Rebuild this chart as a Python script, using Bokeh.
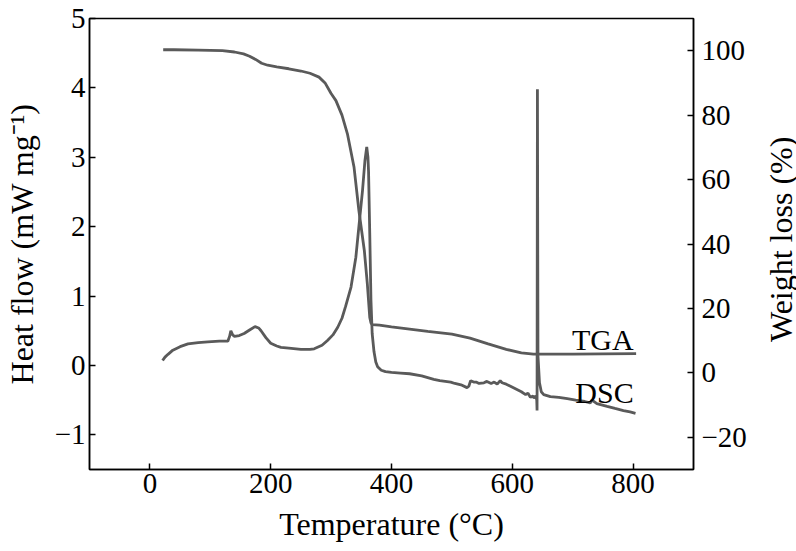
from bokeh.plotting import figure
from bokeh.models import Range1d, LinearAxis, FixedTicker, CustomJSTickFormatter, Div
from bokeh.layouts import row
from bokeh.core.properties import value
from bokeh.embed import file_html
from bokeh.resources import INLINE

# DSC (heat flow, mW/mg) vs temperature (°C)
dsc_temp = [21, 25, 30, 38, 50, 63, 80, 96, 115, 129, 132, 134, 137, 140, 148, 156, 165, 174, 180, 184,
            192, 200, 210, 217, 230, 250, 265, 272, 285, 294, 303, 311, 318, 324, 333, 341, 346, 352,
            356, 359, 361, 362, 364, 366, 368, 371, 374, 377, 383, 390, 400, 415, 430, 450, 470, 480,
            498, 505, 515, 525, 528, 531, 536, 540, 545, 553, 558, 565, 570, 575, 580, 583, 590, 597,
            606, 615, 622, 626, 630, 634, 636, 639, 640.5, 641, 641.6, 642.5, 645, 648, 652, 663, 677,
            691, 705, 720, 729, 732, 740, 757, 770, 784, 795, 804]
dsc_heat = [0.07, 0.12, 0.16, 0.22, 0.27, 0.31, 0.33, 0.34, 0.35, 0.35, 0.42, 0.50, 0.44, 0.42, 0.43, 0.46,
            0.51, 0.56, 0.54, 0.50, 0.40, 0.32, 0.28, 0.26, 0.25, 0.23, 0.23, 0.24, 0.29, 0.36, 0.44, 0.55,
            0.68, 0.85, 1.13, 1.56, 2.00, 2.52, 2.95, 3.15, 3.00, 2.80, 1.90, 0.94, 0.46, 0.20, 0.05, -0.02,
            -0.07, -0.09, -0.10, -0.11, -0.12, -0.15, -0.20, -0.22, -0.24, -0.26, -0.28, -0.32, -0.30, -0.22,
            -0.24, -0.24, -0.26, -0.25, -0.23, -0.26, -0.24, -0.27, -0.22, -0.25, -0.27, -0.30, -0.34, -0.38,
            -0.42, -0.40, -0.46, -0.44, -0.47, -0.44, -0.50, -0.65, 3.98, 0.14, -0.25, -0.38, -0.42, -0.45,
            -0.46, -0.48, -0.50, -0.52, -0.54, -0.50, -0.55, -0.59, -0.62, -0.65, -0.67, -0.69]

# TGA (weight %, right axis) vs temperature (°C)
tga_temp = [22, 40, 80, 120, 140, 155, 165, 175, 185, 195, 210, 230, 250, 265, 280, 290, 300, 308, 318,
            327, 338, 346, 355, 360, 364, 366, 368, 380, 400, 430, 460, 500, 530, 560, 590, 615, 635, 660,
            700, 750, 805]
tga_weight = [100.3, 100.3, 100.2, 100.0, 99.6, 99.0, 98.3, 97.3, 96.1, 95.5, 95.0, 94.4, 93.7, 93.0,
              91.8, 90.0, 86.7, 84.5, 80.0, 74.2, 63.8, 50.4, 38.0, 27.6, 17.2, 15.5, 15.0, 14.8, 14.3,
              13.6, 12.9, 12.0, 10.8, 9.0, 7.3, 6.2, 5.8, 5.8, 5.8, 5.9, 6.0]

x_ticks = [0, 200, 400, 600, 800]
left_ticks = [-1, 0, 1, 2, 3, 4, 5]
right_ticks = [-20, 0, 20, 40, 60, 80, 100]

curve_labels = ["TGA", "DSC"]
label_x = [801, 801]
label_y = [0.375, -0.385]

FONT = "Liberation Serif"
LINE = "#5a5a5a"

p = figure(width=760, height=551, output_backend="svg", toolbar_location=None,
           x_range=Range1d(-100, 900), y_range=Range1d(-1.5, 5),
           min_border_left=87, min_border_top=18, min_border_right=67, min_border_bottom=82)
p.extra_y_ranges = {"w": Range1d(-30, 110)}
p.grid.visible = False
p.background_fill_color = "white"
p.border_fill_color = "white"
p.outline_line_color = "black"
p.outline_line_width = 1.5

minus_fmt = "return tick < 0 ? '\u2212' + Math.abs(tick) : String(tick);"

right_axis = LinearAxis(y_range_name="w")
p.add_layout(right_axis, "right")

for ax in [p.xaxis[0], p.yaxis[0], right_axis]:
    ax.major_tick_in = 6
    ax.major_tick_out = 0
    ax.minor_tick_line_color = None
    ax.axis_line_color = "black"
    ax.axis_line_width = 1.5
    ax.major_tick_line_color = "black"
    ax.major_tick_line_width = 1.5
    ax.major_label_text_font = FONT
    ax.major_label_text_font_size = "29px"
    ax.major_label_text_color = "black"
    ax.axis_label_text_font = FONT
    ax.axis_label_text_font_size = "32px"
    ax.axis_label_text_font_style = "normal"
    ax.axis_label_text_color = "black"
    ax.formatter = CustomJSTickFormatter(code=minus_fmt)

p.xaxis[0].ticker = FixedTicker(ticks=x_ticks)
p.yaxis[0].ticker = FixedTicker(ticks=left_ticks)
right_axis.ticker = FixedTicker(ticks=right_ticks)

p.xaxis[0].axis_label = "Temperature (°C)"
p.yaxis[0].axis_label = "Heat flow (mW mg⁻¹)"
p.xaxis[0].major_label_standoff = 4
p.yaxis[0].major_label_standoff = 4
right_axis.major_label_standoff = 8
p.xaxis[0].axis_label_standoff = 10
p.yaxis[0].axis_label_standoff = 12

p.line(dsc_temp, dsc_heat, line_color=LINE, line_width=2.8)
p.line(tga_temp, tga_weight, line_color=LINE, line_width=2.8, y_range_name="w")

p.text(x=label_x, y=label_y, text=curve_labels, text_font=value(FONT), text_font_size="30px",
       text_align="right", text_baseline="alphabetic", text_color="black")

# right-hand axis title, reading bottom-to-top as in the reference
right_title = Div(
    text=("<div style=\"margin-top:98px; margin-left:1px; width:30px; height:272px; "
          "writing-mode:vertical-rl; transform:rotate(180deg); text-align:center; "
          "font-family:'Liberation Serif'; font-size:32px; line-height:30px; "
          "white-space:nowrap; color:black;\">Weight loss (%)</div>"),
    width=36, height=551)

layout = row(p, right_title)
open("out.html", "w").write(file_html(layout, INLINE))
